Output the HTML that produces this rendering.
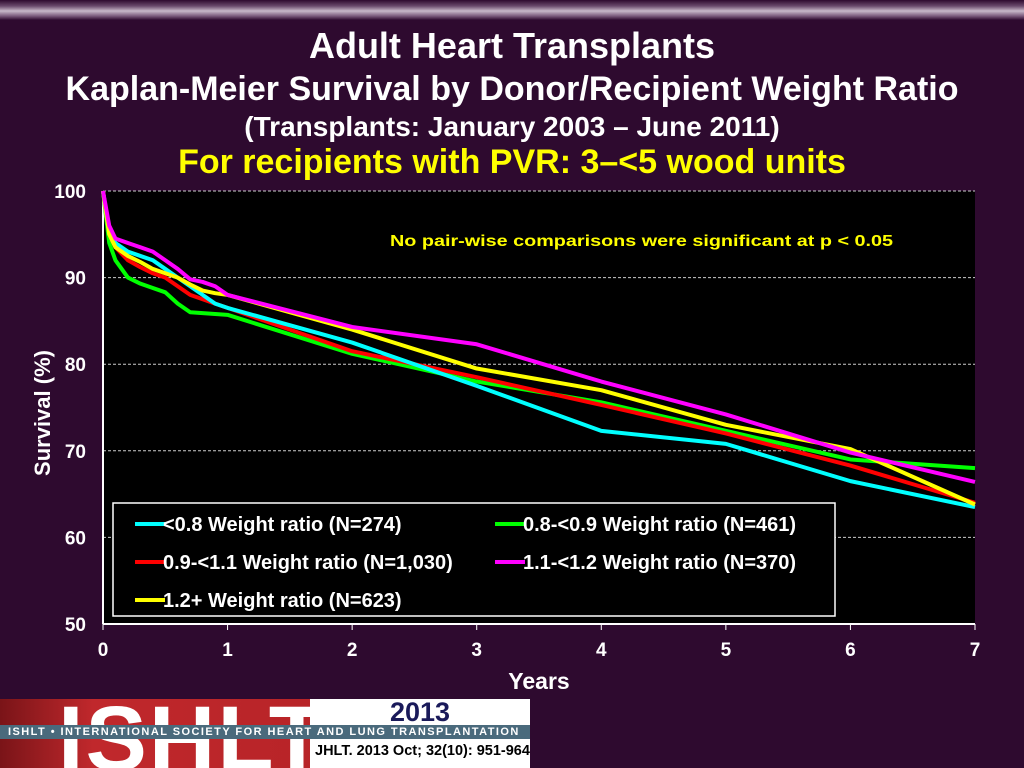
<!DOCTYPE html>
<html><head><meta charset="utf-8"><style>
body{margin:0;width:1024px;height:768px;overflow:hidden;background:#2e0a2f;font-family:"Liberation Sans",Arial,sans-serif;}
.t{position:absolute;left:0;width:1024px;text-align:center;color:#fff;font-weight:bold;white-space:nowrap}
</style></head><body>
<div style="position:absolute;left:0;top:0;width:1024px;height:20px;background:linear-gradient(#2e0a2f 0,#6a4a6c 30%,#c8b8c9 55%,#7a5a7c 80%,#2e0a2f 100%)"></div>
<div class="t" style="top:25px;font-size:36px">Adult Heart Transplants</div>
<div class="t" style="top:70px;font-size:34px">Kaplan-Meier Survival by Donor/Recipient Weight Ratio</div>
<div class="t" style="top:111px;font-size:28px">(Transplants: January 2003 – June 2011)</div>
<div class="t" style="top:143px;font-size:34px;color:#ffff00">For recipients with PVR: 3–&lt;5 wood units</div>
<svg id="c" width="1024" height="768" style="position:absolute;left:0;top:0"></svg>
<div style="position:absolute;left:0;top:699px;width:310px;height:69px;background:linear-gradient(90deg,#7a1418,#c0282c 30%,#b82428);overflow:hidden"><div style="position:absolute;left:58px;top:-6px;font-size:92px;font-weight:bold;color:#fff;letter-spacing:2px;line-height:92px">ISHLT</div></div>
<div style="position:absolute;left:310px;top:699px;width:220px;height:69px;background:#fff"></div>
<div style="position:absolute;left:0;top:725px;width:530px;height:14px;background:#4a6a7c;color:#fff;font-size:11px;font-weight:bold;letter-spacing:1.45px;line-height:14px;padding-left:8px;box-sizing:border-box;white-space:nowrap;overflow:hidden">ISHLT • INTERNATIONAL SOCIETY FOR HEART AND LUNG TRANSPLANTATION</div>
<div style="position:absolute;left:310px;top:697px;width:220px;text-align:center;font-size:27px;font-weight:bold;color:#1a1a5a">2013</div>
<div style="position:absolute;left:315px;top:743px;font-size:14.5px;font-weight:bold;color:#000;white-space:nowrap">JHLT. 2013 Oct; 32(10): 951-964</div>
<script>
const years=[0,0.05,0.1,0.2,0.3,0.4,0.5,0.6,0.7,0.8,0.9,1,2,3,4,5,6,7];
const cyan=[100,95,94,93,92.5,92,91,90,89,88,87,86.5,82.5,77.5,72.3,70.8,66.5,63.5];
const green=[100,94,92,90,89.3,88.8,88.3,87,86,85.9,85.8,85.7,81.2,78,75.6,72.3,69,68];
const red=[100,95,93.5,92,91.2,90.5,90,89,88,87.5,87,86.5,81.5,78.5,75.3,72,68.3,64];
const magenta=[100,96,94.5,94,93.5,93,92,91,89.8,89.5,89,88,84.3,82.3,78,74.2,69.8,66.4];
const yellow=[100,95,93.5,92.5,91.8,91,90.5,90,89.2,88.5,88.2,88,84,79.5,77,73,70.2,63.8];
const xTicks=[0,1,2,3,4,5,6,7];
const yTicks=[50,60,70,80,90,100];
const names=["<0.8 Weight ratio (N=274)","0.8-<0.9 Weight ratio (N=461)","0.9-<1.1 Weight ratio (N=1,030)","1.1-<1.2 Weight ratio (N=370)","1.2+ Weight ratio (N=623)"];
const series=[cyan,green,red,magenta,yellow];
const colors=["#00ffff","#00ff00","#ff0000","#ff00ff","#ffff00"];
const X0=103,X1=975,Y0=624,Y1=191;
const sx=v=>X0+(v/7)*(X1-X0), sy=v=>Y0-(v-50)/50*(Y0-Y1);
const svg=document.getElementById('c');const NS='http://www.w3.org/2000/svg';
function mk(t,a,txt){const e=document.createElementNS(NS,t);for(const k in a)e.setAttribute(k,a[k]);if(txt!==undefined)e.textContent=txt;svg.appendChild(e);return e;}
let e=mk('rect',{x:X0,y:Y1,width:X1-X0,height:Y0-Y1,fill:'#000'});


yTicks.forEach(v=>{
 if(v>50){let g=mk('line',{x1:X0,x2:X1,y1:sy(v),y2:sy(v),stroke:'#ccc','stroke-dasharray':'3,2','stroke-width':1});
 
 }
 let t=mk('text',{x:X0-17,y:sy(v)+7,fill:'#fff','font-size':19,'font-weight':'bold','text-anchor':'end'},v);
 
 
});
xTicks.forEach(v=>{
 mk('line',{x1:sx(v),x2:sx(v),y1:Y0,y2:Y0+6,stroke:'#fff'});
 let t=mk('text',{x:sx(v),y:Y0+32,fill:'#fff','font-size':19,'font-weight':'bold','text-anchor':'middle'},v);
 
 
});
mk('line',{x1:X0,x2:X0,y1:Y1,y2:Y0,stroke:'#fff','stroke-width':2});
mk('line',{x1:X0,x2:X1,y1:Y0,y2:Y0,stroke:'#fff','stroke-width':2});
e=mk('text',{x:539,y:689,fill:'#fff','font-size':23,'font-weight':'bold','text-anchor':'middle'},'Years');


e=mk('text',{x:50,y:413,fill:'#fff','font-size':22,'font-weight':'bold','text-anchor':'middle',transform:'rotate(-90 50 413)'},'Survival (%)');


e=mk('text',{x:390,y:246,fill:'#ffff00','font-size':16,'font-weight':'bold',textLength:503,lengthAdjust:'spacingAndGlyphs'},'No pair-wise comparisons were significant at p < 0.05');


const order=[1,2,0,4,3];
order.forEach(i=>{
 const pts=years.map((y,j)=>sx(y)+','+sy(series[i][j])).join(' ');
 let p=mk('polyline',{points:pts,fill:'none',stroke:colors[i],'stroke-width':4,'stroke-linejoin':'round'});
 
 
});
e=mk('rect',{x:113,y:503,width:722,height:113,fill:'#000',stroke:'#fff','stroke-width':1.5});


const pos=[[135,524],[495,524],[135,562],[495,562],[135,600]];
names.forEach((n,i)=>{
 const [x,y]=pos[i];
 let l=mk('line',{x1:x,x2:x+30,y1:y,y2:y,stroke:colors[i],'stroke-width':4});
 
 
 let t=mk('text',{x:x+28,y:y+7,fill:'#fff','font-size':20,'font-weight':'bold'},n);
 
 
});
</script>
</body></html>
